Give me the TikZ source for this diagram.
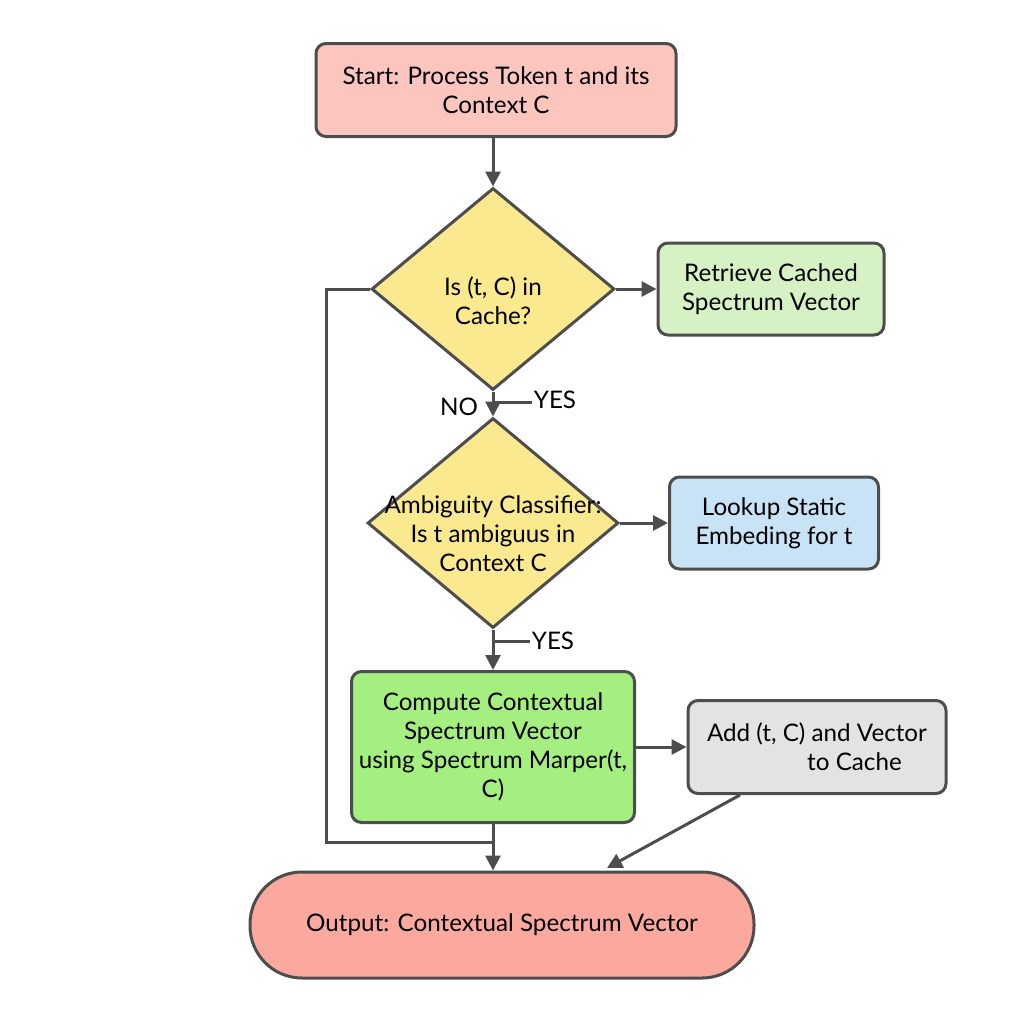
\documentclass[tikz,border=0pt]{standalone}
\usepackage{fontspec}
\setmainfont{Lato}
\usepackage{tikz}
\usetikzlibrary{arrows.meta, shapes.geometric, positioning, calc}
\definecolor{lineC}{HTML}{4D4D4D}
\definecolor{startC}{HTML}{FCC6BF}
\definecolor{askC}{HTML}{FBE990}
\definecolor{hitC}{HTML}{D6F1C3}
\definecolor{staticC}{HTML}{C9E3F6}
\definecolor{computeC}{HTML}{A5EE80}
\definecolor{cacheC}{HTML}{E3E3E3}
\definecolor{outC}{HTML}{FBA99E}
\tikzstyle{arrow} = [line width=1.5pt, draw=lineC, -{Triangle[length=7.5pt,width=7.5pt]}]
\tikzstyle{line} = [line width=1.5pt, draw=lineC]
\tikzstyle{box} = [rectangle, rounded corners=5pt, draw=lineC, line width=1.5pt, inner sep=0pt, align=center]
\tikzstyle{decision} = [diamond, draw=lineC, line width=1.5pt, inner sep=0pt]
\tikzstyle{lbl} = [inner sep=1pt]
\tikzset{
	terminal/.style = {rectangle, rounded corners=26pt, draw=lineC, line width=1.5pt,
		fill=outC, minimum width=252pt, minimum height=53pt, align=center}
}

\begin{document}
\begin{tikzpicture}[font=\fontsize{12.1}{14.5}\selectfont]
\useasboundingbox (0,0) rectangle (512pt,-512pt);
%----------------------------------------------------------------------------
% Placement of flowchart nodes
\node (start) [box, fill=startC, minimum width=180pt, minimum height=46.5pt] at (248pt,-45pt) {Start: Process Token t and its\\Context C};
\node (inCache) [decision, fill=askC, minimum width=121.5pt, minimum height=101pt, below of = start, node distance=99.5pt, xshift=-1.5pt,
	label={[align=center, yshift=-6pt]center:Is (t, C) in\\Cache?}] {};
\node (retrieve) [box, fill=hitC, minimum width=113pt, minimum height=46pt, right of = inCache, node distance=139pt] {Retrieve Cached\\Spectrum Vector};

\node (ambiguous) [decision, fill=askC, minimum width=125.5pt, minimum height=105pt, below of = inCache, node distance=117pt,
	label={[align=center, yshift=-5.5pt]center:Ambiguity Classifier:\\Is t ambiguus in\\Context C}] {};
\node (lookup) [box, fill=staticC, minimum width=104.5pt, minimum height=46pt, right of = ambiguous, node distance=140.5pt] {Lookup Static\\Embeding for t};

\node (compute) [box, fill=computeC, minimum width=141.5pt, minimum height=75.5pt, below of = ambiguous, node distance=112pt] {Compute Contextual\\Spectrum Vector\\using Spectrum Marper(t,\\C)};
\node (addCache) [box, fill=cacheC, minimum width=129pt, minimum height=46.5pt, right of = compute, node distance=162pt] {Add (t, C) and Vector\\\hspace*{3.1em}to Cache};

\node (output) [terminal, below of = compute, node distance=89pt, xshift=4.5pt] {Output: Contextual Spectrum Vector};

%----------------------------------------------------------------------------
% Branch labels
\coordinate [below of = inCache, node distance=56.5pt] (tickA);
\node (yesA) [lbl, right of = tickA, node distance=31pt, yshift=1pt] {YES};
\node (noA) [lbl, left of = tickA, node distance=17pt, yshift=-2.5pt] {NO};
\coordinate [below of = ambiguous, node distance=59pt] (tickB);
\node (yesB) [lbl, right of = tickB, node distance=30pt] {YES};

% helper points for the loop back
\coordinate (loopBot) at (163pt,-421pt);
\coordinate (loopJoin) at (246.5pt,-421pt);
\coordinate (cacheOut) at ([xshift=-38.5pt]addCache.south);
\coordinate (cacheIn) at (303.5pt,-434pt);

%----------------------------------------------------------------------------
% Lines
\draw [arrow] (start.south -| inCache.north) -- (inCache.north);
\draw [arrow] (inCache.east) -- (retrieve.west);
\draw [arrow] (inCache.south) -- (ambiguous.north);
\draw [line] (tickA) -- (tickA -| yesA.west);

\draw [arrow] (ambiguous.east) -- (lookup.west);
\draw [arrow] (ambiguous.south) -- (compute.north);
\draw [line] (tickB) -- (tickB -| yesB.west);

\draw [arrow] (compute.east) -- (addCache.west);
\draw [arrow] (compute.south) -- (compute.south |- output.north);
\draw [line] (inCache.west) -| (loopBot) -- (loopJoin);
\draw [arrow] (cacheOut) -- (cacheIn);
\end{tikzpicture}
\end{document}
